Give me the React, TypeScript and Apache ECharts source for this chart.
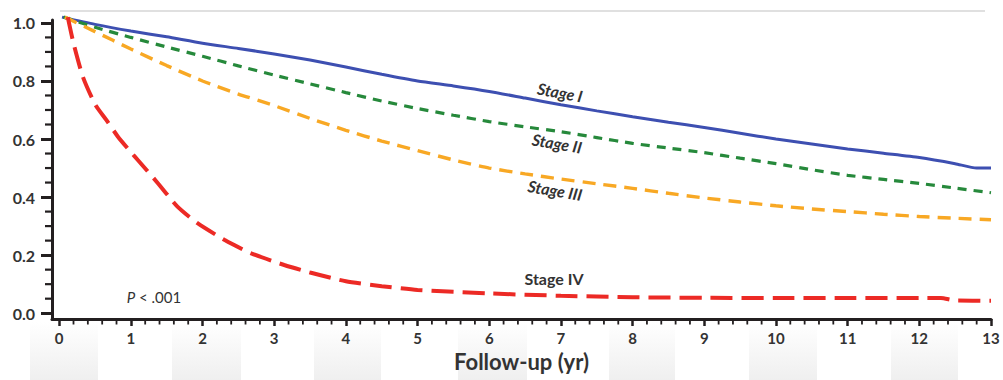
import React, { useEffect, useRef } from "react";
import * as echarts from "echarts";

// Kaplan-Meier style survival curves (years, survival)
const stageI: [number, number][] = [
  [0.04, 1.02], [0.5, 0.995], [1, 0.972], [1.5, 0.952], [2, 0.93], [2.5, 0.912], [3, 0.893],
  [3.5, 0.872], [4, 0.848], [4.5, 0.823], [5, 0.8], [5.5, 0.783], [6, 0.764], [6.5, 0.741],
  [7, 0.718], [7.5, 0.697], [8, 0.677], [8.5, 0.658], [9, 0.64], [9.5, 0.62], [10, 0.6],
  [10.5, 0.583], [11, 0.566], [11.5, 0.551], [12, 0.536], [12.5, 0.515], [12.8, 0.5], [13, 0.5],
];
const stageII: [number, number][] = [
  [0.06, 1.02], [0.5, 0.985], [1, 0.95], [1.5, 0.917], [2, 0.885], [2.5, 0.852], [3, 0.82],
  [3.5, 0.79], [4, 0.76], [4.5, 0.731], [5, 0.705], [5.5, 0.682], [6, 0.66], [6.5, 0.642],
  [7, 0.625], [7.5, 0.605], [8, 0.585], [8.5, 0.569], [9, 0.553], [9.5, 0.534], [10, 0.515],
  [10.5, 0.494], [11, 0.475], [11.5, 0.461], [12, 0.447], [12.5, 0.431], [13, 0.415],
];
const stageIII: [number, number][] = [
  [0.08, 1.02], [0.5, 0.97], [1, 0.91], [1.5, 0.853], [2, 0.8], [2.5, 0.755], [3, 0.715],
  [3.5, 0.671], [4, 0.63], [4.5, 0.593], [5, 0.56], [5.5, 0.528], [6, 0.5], [6.5, 0.48],
  [7, 0.462], [7.5, 0.446], [8, 0.43], [8.5, 0.413], [9, 0.397], [9.5, 0.383], [10, 0.37],
  [10.5, 0.359], [11, 0.35], [11.5, 0.341], [12, 0.333], [12.5, 0.327], [13, 0.322],
];
const stageIV: [number, number][] = [
  [0.12, 1.02], [0.2, 0.93], [0.33, 0.815], [0.5, 0.72], [0.66, 0.665], [0.82, 0.608],
  [1.0, 0.555], [1.1, 0.527], [1.38, 0.447], [1.65, 0.367], [1.93, 0.31], [2.31, 0.252],
  [2.68, 0.206], [3.14, 0.166], [3.5, 0.14], [4.0, 0.11], [4.5, 0.093], [5.0, 0.08],
  [6.0, 0.068], [7.0, 0.06], [8.0, 0.055], [9, 0.053], [10, 0.052], [11, 0.052],
  [12, 0.052], [12.3, 0.052], [12.5, 0.044], [13, 0.043],
];

const xMajorTicks = [0, 1, 2, 3, 4, 5, 6, 7, 8, 9, 10, 11, 12, 13];
const yMajorTicks = [0, 0.2, 0.4, 0.6, 0.8, 1.0];
const curveLabels = ["Stage I", "Stage II", "Stage III", "Stage IV"];
const pValueText = "< .001";
const xAxisTitle = "Follow-up (yr)";

const X_MIN = -0.1;
const X_MAX = 13;
const Y_MIN = -0.02;
const Y_MAX = 1.01;

const xMinorTicks: number[] = [];
for (let i = 0; i < 13; i++) for (let k = 1; k < 5; k++) xMinorTicks.push(+(i + k * 0.2).toFixed(2));
const yMinorTicks: number[] = [];
for (let i = 0; i < 5; i++) for (let k = 1; k < 4; k++) yMinorTicks.push(+(i * 0.2 + k * 0.05).toFixed(2));

const FONT = "Lato, 'Open Sans', sans-serif";
const AXIS = "#231f20";
const TEXT = "#333333";

export default function App() {
  const ref = useRef<HTMLDivElement>(null);
  useEffect(() => {
    document.body.style.margin = "0";
    const chart = echarts.init(ref.current!, null, { renderer: "svg" });
    const bandGrad = () =>
      new echarts.graphic.LinearGradient(0, 0, 0, 1, [
        { offset: 0, color: "#ffffff" },
        { offset: 1, color: "#efefef" },
      ]);
    const bands = [
      [30, 98], [172, 241], [314, 381], [458, 527], [609, 675], [749, 817], [891, 958],
    ].map(([a, b]) => ({
      type: "rect",
      z: -10,
      shape: { x: a, y: 322, width: b - a, height: 58 },
      style: { fill: bandGrad() },
    }));
    const stageText = (text: string, x: number, y: number, rot: number, italic: boolean) => ({
      type: "text",
      x,
      y,
      rotation: rot,
      z: 10,
      style: {
        text,
        x: 0,
        y: 0,
        fill: TEXT,
        fontSize: 16,
        fontWeight: "bold",
        fontStyle: italic ? "italic" : "normal",
        fontFamily: FONT,
        textAlign: "center",
        textVerticalAlign: "middle",
      },
    });
    const lineSeries = (name: string, data: [number, number][], color: string, width: number, type: any) => ({
      name,
      type: "line",
      data,
      showSymbol: false,
      symbol: "none",
      smooth: 0.2,
      clip: false,
      lineStyle: { color, width, type, cap: "butt" },
    });
    chart.setOption({
      animation: false,
      backgroundColor: "#ffffff",
      grid: { left: 52, right: 12, top: 20, bottom: 61, containLabel: false },
      xAxis: {
        type: "value",
        min: X_MIN,
        max: X_MAX,
        axisLine: { show: true, onZero: false, lineStyle: { color: AXIS, width: 3 } },
        axisTick: { show: true, customValues: xMajorTicks, length: 7, lineStyle: { color: AXIS, width: 2.5 } },
        axisLabel: {
          customValues: xMajorTicks,
          margin: 11,
          fontSize: 15,
          fontWeight: "bold",
          color: TEXT,
          fontFamily: FONT,
        },
        splitLine: { show: false },
        name: xAxisTitle,
        nameLocation: "middle",
        nameGap: 31,
        nameTextStyle: { fontSize: 22, fontWeight: "bold", color: TEXT, fontFamily: FONT },
      },
      yAxis: {
        type: "value",
        min: Y_MIN,
        max: Y_MAX,
        axisLine: { show: true, onZero: false, lineStyle: { color: AXIS, width: 3 } },
        axisTick: { show: true, customValues: yMajorTicks, length: 11, lineStyle: { color: AXIS, width: 3 } },
        axisLabel: {
          customValues: yMajorTicks,
          margin: 17,
          formatter: (v: number) => v.toFixed(1),
          fontSize: 16,
          fontWeight: "bold",
          color: TEXT,
          fontFamily: FONT,
        },
        splitLine: { show: false },
      },
      series: [
        lineSeries("Stage I", stageI, "#3d4fb1", 3, "solid"),
        lineSeries("Stage II", stageII, "#26893b", 3.2, [9, 7]),
        lineSeries("Stage III", stageIII, "#f8a824", 3.4, [13, 8]),
        lineSeries("Stage IV", stageIV, "#ec2a25", 4, [22, 9]),
      ],
    });

    // minor ticks placed through the chart's own scales
    const toPx = (x: number, y: number) => chart.convertToPixel({ gridIndex: 0 }, [x, y]) as number[];
    const xMinorEls = xMinorTicks.map((v) => {
      const p = toPx(v, Y_MIN);
      return {
        type: "line",
        z: 20,
        shape: { x1: p[0], y1: p[1], x2: p[0], y2: p[1] + 5.5 },
        style: { stroke: AXIS, lineWidth: 1.8 },
      };
    });
    const yMinorEls = yMinorTicks.map((v) => {
      const p = toPx(X_MIN, v);
      return {
        type: "line",
        z: 20,
        shape: { x1: p[0], y1: p[1], x2: p[0] - 7, y2: p[1] },
        style: { stroke: AXIS, lineWidth: 2.2 },
      };
    });

    chart.setOption({
      graphic: [
        ...bands,
        {
          type: "line",
          z: 1,
          shape: { x1: 60, y1: 11, x2: 985, y2: 11 },
          style: { stroke: "#d6d6d6", lineWidth: 1.5 },
        },
        ...xMinorEls,
        ...yMinorEls,
        stageText(curveLabels[0], 560, 92, -0.18, true),
        stageText(curveLabels[1], 557, 143, -0.17, true),
        stageText(curveLabels[2], 555, 190, -0.17, true),
        stageText(curveLabels[3], 554, 278, 0, false),
        {
          type: "text",
          x: 154,
          y: 297,
          z: 10,
          style: {
            text: "{i|P} " + pValueText,
            rich: { i: { fontStyle: "italic", fontSize: 15, fontFamily: FONT, fill: TEXT } },
            x: 0,
            y: 0,
            fill: TEXT,
            fontSize: 15,
            fontFamily: FONT,
            textAlign: "center",
            textVerticalAlign: "middle",
          },
        },
      ],
    });
    return () => chart.dispose();
  }, []);
  return <div ref={ref} style={{ width: 1003, height: 380 }} />;
}
